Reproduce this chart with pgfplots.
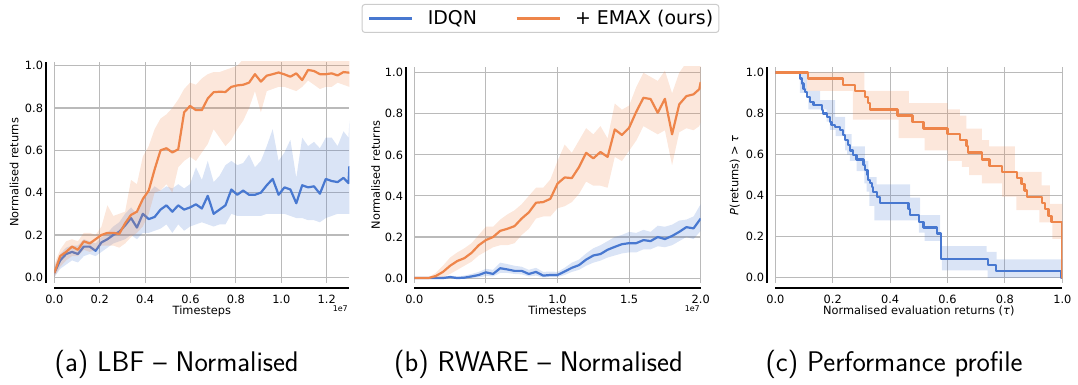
\documentclass[border=0pt]{standalone}
\usepackage{fontspec}
\setmainfont{DejaVu Sans}
\usepackage{pgfplots}
\usepackage{pgfplotstable}
\pgfplotsset{compat=1.18}

\definecolor{cblue}{HTML}{4878D0}
\definecolor{corange}{HTML}{EE854A}

% LBF: mean and confidence band per evaluation step (timesteps in units of 1e7)
\pgfplotstableread{
x      m      lo    hi
0.000  0.020  0.00  0.05
0.026  0.080  0.04  0.11
0.052  0.110  0.06  0.14
0.078  0.120  0.08  0.15
0.104  0.110  0.07  0.15
0.130  0.145  0.10  0.18
0.156  0.145  0.11  0.17
0.182  0.125  0.10  0.16
0.208  0.165  0.12  0.19
0.234  0.180  0.14  0.21
0.260  0.200  0.16  0.24
0.286  0.215  0.17  0.26
0.312  0.245  0.18  0.30
0.338  0.280  0.20  0.33
0.364  0.235  0.18  0.30
0.390  0.300  0.21  0.38
0.416  0.275  0.21  0.40
0.442  0.285  0.22  0.43
0.468  0.320  0.23  0.41
0.494  0.340  0.25  0.43
0.520  0.310  0.21  0.42
0.546  0.340  0.25  0.44
0.572  0.320  0.22  0.42
0.598  0.330  0.24  0.44
0.624  0.345  0.25  0.52
0.650  0.325  0.26  0.46
0.676  0.385  0.25  0.55
0.702  0.300  0.24  0.45
0.728  0.320  0.25  0.48
0.754  0.340  0.25  0.53
0.780  0.415  0.30  0.55
0.806  0.390  0.29  0.53
0.832  0.410  0.29  0.54
0.858  0.390  0.29  0.58
0.884  0.390  0.29  0.52
0.910  0.400  0.29  0.55
0.936  0.435  0.30  0.62
0.962  0.465  0.30  0.70
0.988  0.390  0.30  0.55
1.014  0.425  0.30  0.59
1.040  0.415  0.29  0.65
1.066  0.350  0.28  0.47
1.092  0.435  0.28  0.66
1.118  0.425  0.27  0.62
1.144  0.430  0.27  0.64
1.170  0.395  0.26  0.61
1.196  0.465  0.28  0.66
1.222  0.455  0.29  0.66
1.248  0.450  0.30  0.62
1.274  0.470  0.30  0.69
1.296  0.445  0.30  0.66
1.300  0.525  0.30  0.74
}\lbfIdqn

\pgfplotstableread{
x      m      lo    hi
0.000  0.020  0.00  0.06
0.026  0.100  0.05  0.13
0.052  0.120  0.08  0.17
0.078  0.145  0.10  0.18
0.104  0.130  0.10  0.17
0.130  0.170  0.13  0.21
0.156  0.160  0.12  0.21
0.182  0.180  0.13  0.20
0.208  0.200  0.15  0.24
0.234  0.210  0.15  0.34
0.260  0.210  0.15  0.29
0.286  0.205  0.14  0.30
0.312  0.255  0.16  0.31
0.338  0.295  0.19  0.46
0.364  0.310  0.21  0.44
0.390  0.370  0.24  0.57
0.416  0.410  0.30  0.62
0.442  0.510  0.40  0.70
0.468  0.600  0.41  0.75
0.494  0.610  0.44  0.77
0.520  0.590  0.40  0.80
0.546  0.605  0.52  0.84
0.572  0.780  0.55  0.89
0.598  0.810  0.57  0.92
0.624  0.790  0.55  0.91
0.650  0.790  0.59  0.94
0.676  0.845  0.63  0.96
0.702  0.875  0.70  0.97
0.728  0.877  0.66  0.97
0.754  0.876  0.62  0.98
0.780  0.900  0.65  0.99
0.806  0.907  0.70  1.00
0.832  0.910  0.74  1.03
0.858  0.920  0.80  1.05
0.884  0.960  0.88  1.05
0.910  0.925  0.78  1.05
0.936  0.953  0.88  1.05
0.962  0.960  0.89  1.05
0.988  0.968  0.90  1.05
1.014  0.959  0.90  1.05
1.040  0.948  0.89  1.05
1.066  0.964  0.88  1.05
1.092  0.932  0.90  1.05
1.118  0.980  0.93  1.05
1.144  0.975  0.91  1.05
1.170  0.960  0.89  1.05
1.196  0.960  0.90  1.05
1.222  0.964  0.90  1.05
1.248  0.954  0.92  1.05
1.274  0.970  0.91  1.05
1.300  0.967  0.90  1.05
}\lbfEmax

% RWARE: mean and confidence band per evaluation step
\pgfplotstableread{
x     m      lo     hi
0.00  0.000  0.000  0.000
0.05  0.000  0.000  0.000
0.10  0.000  0.000  0.005
0.15  0.000  0.000  0.005
0.20  0.000  0.000  0.008
0.25  0.005  0.000  0.012
0.30  0.000  0.000  0.008
0.35  0.002  0.000  0.012
0.40  0.008  0.000  0.020
0.45  0.015  0.003  0.030
0.50  0.028  0.010  0.045
0.55  0.020  0.008  0.040
0.60  0.048  0.025  0.075
0.65  0.042  0.025  0.068
0.70  0.035  0.020  0.060
0.75  0.035  0.018  0.055
0.80  0.020  0.008  0.040
0.85  0.030  0.012  0.050
0.90  0.012  0.003  0.030
0.95  0.015  0.005  0.032
1.00  0.015  0.005  0.030
1.05  0.032  0.015  0.050
1.10  0.050  0.030  0.075
1.15  0.063  0.040  0.090
1.20  0.090  0.060  0.120
1.25  0.110  0.075  0.145
1.30  0.117  0.085  0.160
1.35  0.138  0.100  0.180
1.40  0.152  0.110  0.200
1.45  0.165  0.120  0.210
1.50  0.170  0.125  0.225
1.55  0.170  0.125  0.220
1.60  0.185  0.140  0.235
1.65  0.180  0.140  0.225
1.70  0.200  0.155  0.255
1.75  0.190  0.150  0.250
1.80  0.205  0.160  0.260
1.85  0.225  0.180  0.280
1.90  0.248  0.200  0.285
1.95  0.242  0.190  0.300
2.00  0.290  0.230  0.360
}\rwIdqn

\pgfplotstableread{
x     m      lo     hi
0.00  0.000  0.000  0.000
0.05  0.000  0.000  0.000
0.10  0.000  0.000  0.005
0.15  0.010  0.000  0.025
0.20  0.030  0.005  0.060
0.25  0.060  0.020  0.100
0.30  0.083  0.040  0.125
0.35  0.097  0.060  0.145
0.40  0.123  0.080  0.170
0.45  0.160  0.110  0.210
0.50  0.185  0.130  0.250
0.55  0.200  0.150  0.250
0.60  0.230  0.160  0.285
0.65  0.240  0.160  0.310
0.70  0.253  0.170  0.330
0.75  0.290  0.210  0.360
0.80  0.320  0.240  0.400
0.85  0.367  0.290  0.440
0.90  0.370  0.300  0.440
0.95  0.386  0.300  0.480
1.00  0.460  0.340  0.570
1.05  0.490  0.350  0.650
1.10  0.487  0.370  0.610
1.15  0.540  0.410  0.670
1.20  0.610  0.470  0.730
1.25  0.583  0.450  0.700
1.30  0.614  0.450  0.740
1.35  0.590  0.440  0.680
1.40  0.724  0.590  0.850
1.45  0.697  0.570  0.820
1.50  0.732  0.620  0.840
1.55  0.810  0.670  0.930
1.60  0.878  0.740  1.000
1.65  0.872  0.720  0.980
1.70  0.805  0.700  0.960
1.75  0.873  0.720  1.010
1.80  0.700  0.550  0.900
1.85  0.846  0.710  1.000
1.90  0.886  0.730  1.050
1.95  0.895  0.720  1.050
1.99  0.920  0.740  1.050
2.00  0.955  0.760  1.050
}\rwEmax

% band outlines: the table forwards (upper edge) followed by the table backwards (lower edge)
\newcommand\makeband[3]{%
  \pgfplotstablesort[sort key=x, sort cmp=float <]{#1}{#2}%
  \pgfplotstablesort[sort key=x, sort cmp=float >]{\bandrev}{#2}%
  \pgfplotstablevertcat{#1}{\bandrev}%
  \pgfplotstablegetrowsof{#2}\global\let#3\pgfplotsretval}
\makeband{\lbfIdqnBand}{\lbfIdqn}{\nLI}
\makeband{\lbfEmaxBand}{\lbfEmax}{\nLE}
\makeband{\rwIdqnBand}{\rwIdqn}{\nRI}
\makeband{\rwEmaxBand}{\rwEmax}{\nRE}

\newcommand\labelfont{\fontsize{11.4}{13}\selectfont}

\pgfplotsset{
  panel/.style={
    scale only axis, anchor=south west,
    xmin=0, ymin=-0.025, ymax=1.025,
    grid=major,
    major grid style={draw=black!27, line width=1.1bp},
    axis line style={draw=none},
    tick style={draw=none},
    ytick={0,0.2,0.4,0.6,0.8,1.0},
    /pgf/number format/assume math mode=true,
    ticklabel style={font=\labelfont,
      /pgf/number format/fixed, /pgf/number format/fixed zerofill,
      /pgf/number format/precision=1},
    xticklabel style={anchor=base, yshift=-20.3bp},
    yticklabel style={anchor=east, xshift=-7.8bp},
    every axis x label/.style={at={(axis description cs:0.5,0)}, anchor=base,
      yshift=-32bp, font=\labelfont},
  },
  ylab/.style={every axis y label/.style={at={(axis description cs:#1,0.5)},
      rotate=90, anchor=base, font=\labelfont}},
  meanline/.style={line width=2.2bp, line join=round, forget plot},
  bandfill/.style={fill=#1, fill opacity=0.2, draw=none, forget plot},
}

\begin{document}
\begin{tikzpicture}
\path[use as bounding box] (0,0) rectangle (1078bp,385bp);

% (a) LBF
\begin{axis}[panel, name=A, at={(54.3bp,102bp)},
  width=295.1bp, height=221.3bp,
  xmax=1.3, ymin=-0.027, ymax=1.019,
  xtick={0,0.2,0.4,0.6,0.8,1.0,1.2},
  xlabel={Timesteps}, ylabel={Normalised returns}, ylab=-0.122]
  \addplot[bandfill=cblue] table[x=x, y expr={ifthenelse(\coordindex<\nLI,\thisrow{hi},\thisrow{lo})}] {\lbfIdqnBand};
  \addplot[meanline, cblue] table[x=x, y=m] {\lbfIdqn};
  \addplot[bandfill=corange] table[x=x, y expr={ifthenelse(\coordindex<\nLE,\thisrow{hi},\thisrow{lo})}] {\lbfEmaxBand};
  \addplot[meanline, corange] table[x=x, y=m] {\lbfEmax};
\end{axis}

% (b) RWARE
\begin{axis}[panel, name=B, at={(414.3bp,102bp)},
  width=286.4bp, height=216bp,
  xmax=2.0, ymin=-0.024, ymax=1.028,
  xtick={0,0.5,1.0,1.5,2.0},
  xlabel={Timesteps}, ylabel={Normalised returns}, ylab=-0.12,
  legend columns=2,
  legend image code/.code={\draw[#1, line width=3bp] (0bp,0bp) -- (43bp,0bp);},
  legend style={at={(0.4406,1.2917)}, anchor=north,
    draw=black!20, line width=1bp, rounded corners=2.5bp,
    font=\fontsize{19}{22}\selectfont,
    inner xsep=5.6bp, inner ysep=6bp,
    nodes={inner sep=0bp},
    /tikz/every odd column/.append style={column sep=14bp},
    /tikz/every even column/.append style={column sep=38bp}}]
  \addlegendimage{cblue}
  \addlegendentry{IDQN}
  \addlegendimage{corange}
  \addlegendentry{+ EMAX (ours)}
  \addplot[bandfill=cblue] table[x=x, y expr={ifthenelse(\coordindex<\nRI,\thisrow{hi},\thisrow{lo})}] {\rwIdqnBand};
  \addplot[meanline, cblue] table[x=x, y=m] {\rwIdqn};
  \addplot[bandfill=corange] table[x=x, y expr={ifthenelse(\coordindex<\nRE,\thisrow{hi},\thisrow{lo})}] {\rwEmaxBand};
  \addplot[meanline, corange] table[x=x, y=m] {\rwEmax};
\end{axis}

% (c) performance profile
\begin{axis}[panel, name=C, at={(775.3bp,102bp)},
  width=287bp, height=215.7bp,
  xmax=1.0, ymin=-0.025, ymax=1.025,
  xtick={0,0.2,0.4,0.6,0.8,1.0},
  xlabel={Normalised evaluation returns (\textit{τ})},
  ylabel={\textit{P}(returns) > \textit{τ}}, ylab=-0.129]
  \addplot[bandfill=cblue] coordinates {
    (0,1.0) (0.11,1.0) (0.11,0.91) (0.156,0.91) (0.156,0.865) (0.208,0.865)
    (0.208,0.784) (0.243,0.784) (0.243,0.70) (0.266,0.70) (0.266,0.64) (0.312,0.64)
    (0.312,0.57) (0.324,0.57) (0.324,0.49) (0.353,0.49) (0.353,0.455) (0.47,0.455)
    (0.47,0.39) (0.505,0.39) (0.505,0.305) (0.574,0.305) (0.574,0.154) (0.736,0.154)
    (0.736,0.127) (0.771,0.127) (0.771,0.09) (1.0,0.09)
    (1.0,0.0) (0.74,0.0) (0.74,0.037) (0.58,0.037) (0.58,0.18) (0.52,0.18)
    (0.52,0.22) (0.5,0.22) (0.5,0.28) (0.345,0.28) (0.345,0.35) (0.328,0.35)
    (0.328,0.42) (0.318,0.42) (0.318,0.46) (0.31,0.46) (0.31,0.52) (0.283,0.52)
    (0.283,0.57) (0.26,0.57) (0.26,0.60) (0.25,0.60) (0.25,0.62) (0.243,0.62)
    (0.243,0.69) (0.21,0.69) (0.21,0.72) (0.19,0.72) (0.19,0.76) (0.179,0.76)
    (0.179,0.82) (0.115,0.82) (0.115,0.90) (0.086,0.90) (0.086,1.0) (0,1.0)};
  \addplot[meanline, const plot, cblue] coordinates {
    (0,1.0) (0.086,0.97) (0.092,0.946) (0.098,0.92) (0.104,0.906) (0.11,0.881)
    (0.121,0.857) (0.133,0.841) (0.162,0.816) (0.167,0.80) (0.179,0.784)
    (0.19,0.76) (0.196,0.745) (0.208,0.735) (0.225,0.719) (0.237,0.695)
    (0.243,0.67) (0.254,0.645) (0.26,0.62) (0.272,0.597) (0.283,0.576)
    (0.307,0.549) (0.313,0.524) (0.321,0.50) (0.324,0.476) (0.33,0.46)
    (0.336,0.443) (0.341,0.419) (0.353,0.394) (0.365,0.364) (0.464,0.334)
    (0.469,0.305) (0.5,0.273) (0.516,0.245) (0.562,0.216) (0.578,0.091)
    (0.742,0.062) (0.768,0.032) (0.996,0.0) (1.0,0.0)};
  \addplot[bandfill=corange] coordinates {
    (0,1.0) (0.31,1.0) (0.31,0.91) (0.465,0.91) (0.465,0.85) (0.60,0.85)
    (0.60,0.82) (0.643,0.82) (0.643,0.79) (0.666,0.79) (0.666,0.727) (0.72,0.727)
    (0.72,0.67) (0.745,0.67) (0.745,0.64) (0.835,0.64) (0.835,0.516) (0.928,0.516)
    (0.928,0.45) (0.957,0.45) (0.957,0.36) (1.0,0.36)
    (1.0,0.19) (0.965,0.19) (0.965,0.27) (0.92,0.27) (0.92,0.33) (0.84,0.33)
    (0.84,0.395) (0.79,0.395) (0.79,0.46) (0.72,0.46) (0.72,0.50) (0.675,0.50)
    (0.675,0.54) (0.65,0.54) (0.65,0.57) (0.60,0.57) (0.60,0.62) (0.52,0.62)
    (0.52,0.68) (0.43,0.68) (0.43,0.77) (0.27,0.77) (0.27,0.91) (0.11,0.91)
    (0.11,1.0) (0,1.0)};
  \addplot[meanline, const plot, corange] coordinates {
    (0,1.0) (0.113,0.97) (0.235,0.94) (0.278,0.91) (0.312,0.88) (0.322,0.85)
    (0.33,0.82) (0.426,0.79) (0.478,0.76) (0.516,0.727) (0.60,0.70)
    (0.643,0.67) (0.666,0.64) (0.672,0.61) (0.72,0.576) (0.746,0.545)
    (0.79,0.515) (0.842,0.485) (0.858,0.455) (0.868,0.425) (0.876,0.394)
    (0.928,0.364) (0.94,0.334) (0.952,0.303) (0.962,0.273) (0.998,0.0) (1.0,0.0)};
\end{axis}

% offset spines
\foreach \ax in {A,B,C} {
  \draw[line width=1.8bp] ([xshift=-8.3bp]\ax.south west) -- ([xshift=-8.3bp]\ax.north west);
  \draw[line width=1.8bp] ([yshift=-5bp]\ax.south west) -- ([yshift=-5bp]\ax.south east);
}
\node[anchor=base east, inner sep=0pt, font=\fontsize{8}{9}\selectfont] at ([xshift=-1.4bp, yshift=-28.7bp]A.south east) {1e7};
\node[anchor=base east, inner sep=0pt, font=\fontsize{8}{9}\selectfont] at ([xshift=-0.7bp, yshift=-28.7bp]B.south east) {1e7};

% sub-figure captions
\node[anchor=base, inner sep=0pt, font=\fontsize{28.5}{30}\sffamily] at (176.7bp,13.5bp) {(a) LBF -- Normalised};
\node[anchor=base, inner sep=0pt, font=\fontsize{28.5}{30}\sffamily] at (538.5bp,13.5bp) {(b) RWARE -- Normalised};
\node[anchor=base, inner sep=0pt, font=\fontsize{28.5}{30}\sffamily] at (894bp,13.5bp) {(c) Performance profile};
\end{tikzpicture}
\end{document}
